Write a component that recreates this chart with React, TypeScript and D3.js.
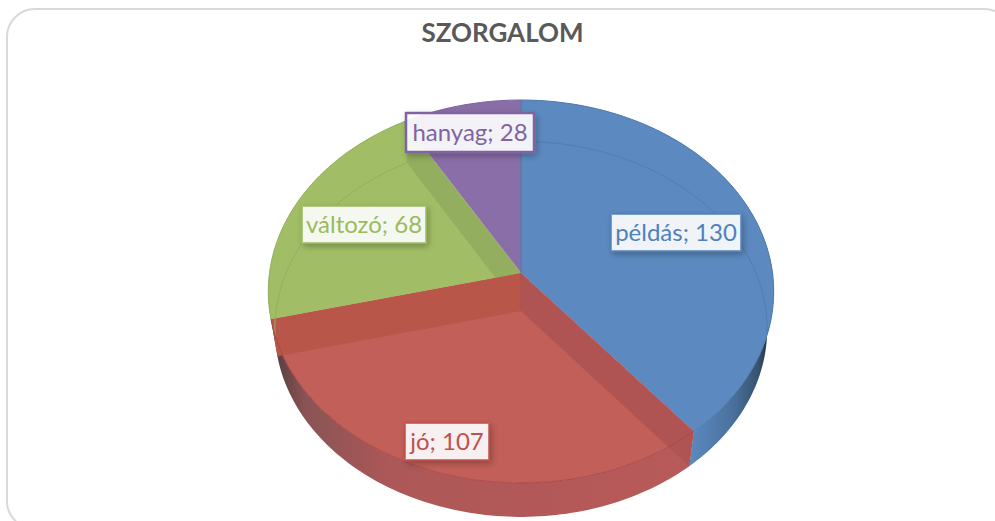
import React from "react";
import * as d3 from "d3";

const title = "SZORGALOM";
const categories = ["példás", "jó", "változó", "hanyag"];
const values = [130, 107, 68, 28];
const colors = ["#5c8ac0", "#c25e59", "#a1be66", "#8a6ea8"];
const labelColors = ["#4f81bd", "#c0504d", "#9bbb59", "#8064a2"];

const labelBoxes = [
  { x: 611, y: 214, w: 130, h: 37 },
  { x: 405, y: 423, w: 84, h: 37 },
  { x: 302, y: 206, w: 124, h: 37 },
  { x: 406, y: 113, w: 128, h: 39 },
];

const FONT = "Lato, Carlito, 'Open Sans', sans-serif";
const K = 0.0966;
const topFace = { cx: 521, cy: 273, a: 251.5, b: 189.7 };
const floorFace = { cx: 521, cy: 311, a: 245, b: 186 };

type Face = typeof topFace;

// circle seen in perspective, nearer edge is a bit larger
function project(face: Face, angle: number): [number, number] {
  const u = Math.sin(angle);
  const v = -Math.cos(angle);
  const w = 1 - K * v;
  return [face.cx + (face.a * u) / w, face.cy + (face.b * v) / w];
}

function arcPoints(face: Face, a0: number, a1: number) {
  const n = Math.max(2, Math.ceil(Math.abs(a1 - a0) / 0.02));
  const t = d3.scaleLinear().domain([0, n]).range([a0, a1]);
  return d3.range(n + 1).map(i => project(face, t(i)));
}

const line = d3.line();

function slicePath(face: Face, a0: number, a1: number) {
  return line([[face.cx, face.cy], ...arcPoints(face, a0, a1)]) + "Z";
}

function wallPath(a0: number, a1: number) {
  return line([...arcPoints(topFace, a0, a1), ...arcPoints(floorFace, a1, a0)]) + "Z";
}

function cutPath(angle: number) {
  return (
    line([
      [topFace.cx, topFace.cy],
      [floorFace.cx, floorFace.cy],
      project(floorFace, angle),
      project(topFace, angle),
    ]) + "Z"
  );
}

export default function App() {
  const slices = d3.pie<number>().sort(null)(values);
  const [blue, red, green, purple] = slices;
  const wholeTop = line(arcPoints(topFace, 0, 2 * Math.PI)) + "Z";

  return (
    <svg
      width={995}
      height={521}
      viewBox="0 0 995 521"
      style={{ position: "fixed", left: 0, top: 0, display: "block", background: "#fff" }}
    >
      <defs>
        <linearGradient id="wallRed" gradientUnits="userSpaceOnUse" x1={276} x2={692} y1={0} y2={0}>
          <stop offset="0" stopColor="#5a3f3f" />
          <stop offset="0.07" stopColor="#8a5355" />
          <stop offset="0.28" stopColor="#ad5858" />
          <stop offset="1" stopColor="#b95a5a" />
        </linearGradient>
        <linearGradient id="wallBlue" gradientUnits="userSpaceOnUse" x1={692} x2={770} y1={0} y2={0}>
          <stop offset="0" stopColor="#5b88bd" />
          <stop offset="0.5" stopColor="#4b729f" />
          <stop offset="0.85" stopColor="#36536f" />
          <stop offset="1" stopColor="#1c2d40" />
        </linearGradient>
        <clipPath id="topClip">
          <path d={wholeTop} />
        </clipPath>
        <clipPath id="greenClip">
          <path d={slicePath(topFace, green.startAngle, green.endAngle)} />
        </clipPath>
        <filter id="labelShadow" x="-20%" y="-30%" width="140%" height="170%">
          <feDropShadow dx={2} dy={3} stdDeviation={3} floodColor="#000" floodOpacity={0.28} />
        </filter>
        <filter id="soft" x="-5%" y="-5%" width="110%" height="110%">
          <feGaussianBlur stdDeviation={0.5} />
        </filter>
      </defs>

      <rect x={7} y={9} width={1005} height={520} rx={28} fill="#fff" stroke="#d9d9d9" strokeWidth={2} />

      <text
        x={502.5}
        y={42}
        textAnchor="middle"
        fontFamily={FONT}
        fontWeight={700}
        fontSize={26}
        fill="#595959"
      >
        {title}
      </text>

      <g filter="url(#soft)">
        {/* outer wall */}
        <path d={wallPath(green.startAngle, green.startAngle + 0.15)} fill={colors[2]} />
        <path d={wallPath(blue.startAngle, blue.endAngle)} fill="url(#wallBlue)" />
        <path d={wallPath(red.startAngle, red.endAngle)} fill="url(#wallRed)" />

        {/* top face */}
        {slices.map((s, i) => (
          <path key={categories[i]} d={slicePath(topFace, s.startAngle, s.endAngle)} fill={colors[i]} />
        ))}

        {/* walls seen through the top */}
        <g clipPath="url(#greenClip)">
          <path d={cutPath(purple.startAngle)} fill="#93ae5e" />
        </g>
        <path d={cutPath(red.endAngle)} fill="#b8574a" />
        <path d={cutPath(red.startAngle)} fill="#b05353" />
        <line
          x1={topFace.cx}
          y1={topFace.cy}
          x2={floorFace.cx}
          y2={floorFace.cy}
          stroke="#a8554f"
          strokeWidth={1}
        />

        {/* floor rim seen through */}
        <g clipPath="url(#topClip)" fill="none" strokeWidth={1}>
          <path d={line(arcPoints(floorFace, blue.startAngle, blue.endAngle)) ?? ""} stroke="#4f7db3" />
          <path d={line(arcPoints(floorFace, green.startAngle, green.endAngle)) ?? ""} stroke="#93af5f" />
        </g>

        {/* edges */}
        <path d={line(arcPoints(topFace, red.startAngle, red.endAngle)) ?? ""} fill="none" stroke="#a84a4a" strokeWidth={1} />
        <path d={line(arcPoints(topFace, blue.startAngle, blue.endAngle)) ?? ""} fill="none" stroke="#4f7cb0" strokeWidth={1} />
        <path d={line(arcPoints(topFace, green.startAngle, green.endAngle)) ?? ""} fill="none" stroke="#8fae57" strokeWidth={1} />
        <path d={line(arcPoints(topFace, purple.startAngle, purple.endAngle)) ?? ""} fill="none" stroke="#7d62a0" strokeWidth={1} />
        <line
          x1={topFace.cx}
          y1={topFace.cy}
          x2={project(topFace, 0)[0]}
          y2={project(topFace, 0)[1]}
          stroke="#5278aa"
          strokeWidth={1}
        />
      </g>

      {/* data labels */}
      {slices.map((s, i) => {
        const box = labelBoxes[i];
        return (
          <g key={categories[i]}>
            <rect
              x={box.x}
              y={box.y}
              width={box.w}
              height={box.h}
              fill="#fff"
              fillOpacity={0.9}
              stroke={labelColors[i]}
              strokeOpacity={i === 3 ? 1 : 0.75}
              strokeWidth={i === 3 ? 2.5 : 2}
              filter="url(#labelShadow)"
            />
            <text
              x={box.x + box.w / 2}
              y={box.y + box.h / 2 + 8}
              textAnchor="middle"
              fontFamily={FONT}
              fontSize={24}
              fill={labelColors[i]}
            >
              {`${categories[i]}; ${s.value}`}
            </text>
          </g>
        );
      })}
    </svg>
  );
}
